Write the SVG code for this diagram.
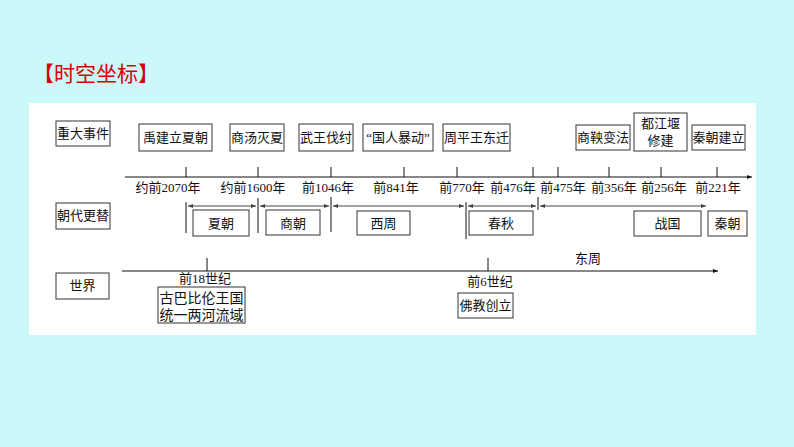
<svg xmlns="http://www.w3.org/2000/svg" width="794" height="447" viewBox="0 0 794 447">
<style>
text{font-family:"Liberation Serif","Noto Sans CJK SC",serif;font-size:13px;fill:#111;text-anchor:middle}
.box{fill:#fff;stroke:#333;stroke-width:1}
.ln{stroke:#111;stroke-width:1;fill:none}
.ar{stroke:#444;stroke-width:1;fill:none;marker-start:url(#ah);marker-end:url(#ah)}
.title{font-family:"Noto Sans CJK SC",sans-serif;font-size:21px;fill:#d60000;text-anchor:start}
</style>
<defs>
<marker id="ah" viewBox="0 0 10 10" refX="10" refY="5" markerWidth="7" markerHeight="5" orient="auto-start-reverse" markerUnits="userSpaceOnUse">
<path d="M0,1 L10,5 L0,9 Z" fill="#444"/>
</marker>
<marker id="ax" viewBox="0 0 10 10" refX="10" refY="5" markerWidth="8" markerHeight="5" orient="auto" markerUnits="userSpaceOnUse">
<path d="M0,1 L10,5 L0,9 Z" fill="#111"/>
</marker>
</defs>
<rect width="794" height="447" fill="#cbf8f9"/>
<rect x="29" y="103" width="727" height="232" fill="#fff"/>
<text class="title" x="33" y="81">【时空坐标】</text>

<g id="connectors">
<line class="ln" x1="125" y1="177" x2="752" y2="177" marker-end="url(#ax)"/>
<path class="ln" d="M186,167V177M258,167V177M331,167V177M404,167V177M457,167V177M533,167V177M558,167V177M609,167V177M661,167V177M717,167V177"/>
<path class="ln" d="M186,202V233M258,198V233M331,197V232M466,202V239M538,197V210"/>
<line class="ar" x1="188" y1="206" x2="256" y2="206"/>
<line class="ar" x1="260" y1="206" x2="329" y2="206"/>
<line class="ar" x1="333" y1="206" x2="464" y2="206"/>
<line class="ar" x1="468" y1="206" x2="536" y2="206"/>
<line class="ar" x1="540" y1="206" x2="706" y2="206"/>
<line class="ln" x1="122" y1="271" x2="718" y2="271" marker-end="url(#ax)"/>
<path class="ln" d="M207,258V271M488,258V271"/>
</g>

<g id="label-events"><rect class="box" x="56" y="121" width="54" height="25"/><text x="83" y="138">重大事件</text></g>
<g id="label-dynasty"><rect class="box" x="56" y="203" width="54" height="26"/><text x="83" y="220">朝代更替</text></g>
<g id="label-world"><rect class="box" x="56" y="273" width="53" height="26"/><text x="82.5" y="290">世界</text></g>

<g id="e1"><rect class="box" x="139" y="124" width="73" height="27"/><text x="175.5" y="142">禹建立夏朝</text></g>
<g id="e2"><rect class="box" x="230" y="124" width="54" height="27"/><text x="257" y="142">商汤灭夏</text></g>
<g id="e3"><rect class="box" x="299" y="124" width="54" height="27"/><text x="326" y="142">武王伐纣</text></g>
<g id="e4"><rect class="box" x="363" y="124" width="70" height="27"/><text x="398" y="142">“国人暴动”</text></g>
<g id="e5"><rect class="box" x="443" y="124" width="67" height="27"/><text x="476.5" y="142">周平王东迁</text></g>
<g id="e6"><rect class="box" x="576" y="125" width="54" height="25"/><text x="603" y="142">商鞅变法</text></g>
<g id="e7"><rect class="box" x="634" y="113" width="53" height="38"/><text x="660.5" y="128">都江堰</text><text x="660.5" y="145">修建</text></g>
<g id="e8"><rect class="box" x="692" y="125" width="53" height="25"/><text x="718.5" y="142">秦朝建立</text></g>

<g id="years">
<text x="168" y="192">约前2070年</text>
<text x="253" y="192">约前1600年</text>
<text x="328" y="192">前1046年</text>
<text x="396" y="192">前841年</text>
<text x="462" y="192">前770年</text>
<text x="513" y="192">前476年</text>
<text x="563" y="192">前475年</text>
<text x="614" y="192">前356年</text>
<text x="664" y="192">前256年</text>
<text x="718" y="192">前221年</text>
</g>

<g id="d1"><rect class="box" x="193" y="210" width="56" height="26"/><text x="221" y="228">夏朝</text></g>
<g id="d2"><rect class="box" x="266" y="210" width="54" height="25"/><text x="293" y="228">商朝</text></g>
<g id="d3"><rect class="box" x="357" y="211" width="53" height="24"/><text x="383.5" y="228">西周</text></g>
<g id="d4"><rect class="box" x="469" y="211" width="64" height="24"/><text x="501" y="228">春秋</text></g>
<g id="d5"><rect class="box" x="634" y="211" width="67" height="25"/><text x="667.5" y="228">战国</text></g>
<g id="d6"><rect class="box" x="708" y="211" width="39" height="25"/><text x="727.5" y="228">秦朝</text></g>
<g id="eastzhou"><text x="588" y="263">东周</text></g>

<g id="w1"><text x="205" y="283">前18世纪</text><rect class="box" x="158" y="287" width="87" height="36"/><text x="201.5" y="303" style="font-size:14px">古巴比伦王国</text><text x="201.5" y="320" style="font-size:14px">统一两河流域</text></g>
<g id="w2"><text x="490" y="286">前6世纪</text><rect class="box" x="458" y="293" width="55" height="25"/><text x="485.5" y="310">佛教创立</text></g>
</svg>
